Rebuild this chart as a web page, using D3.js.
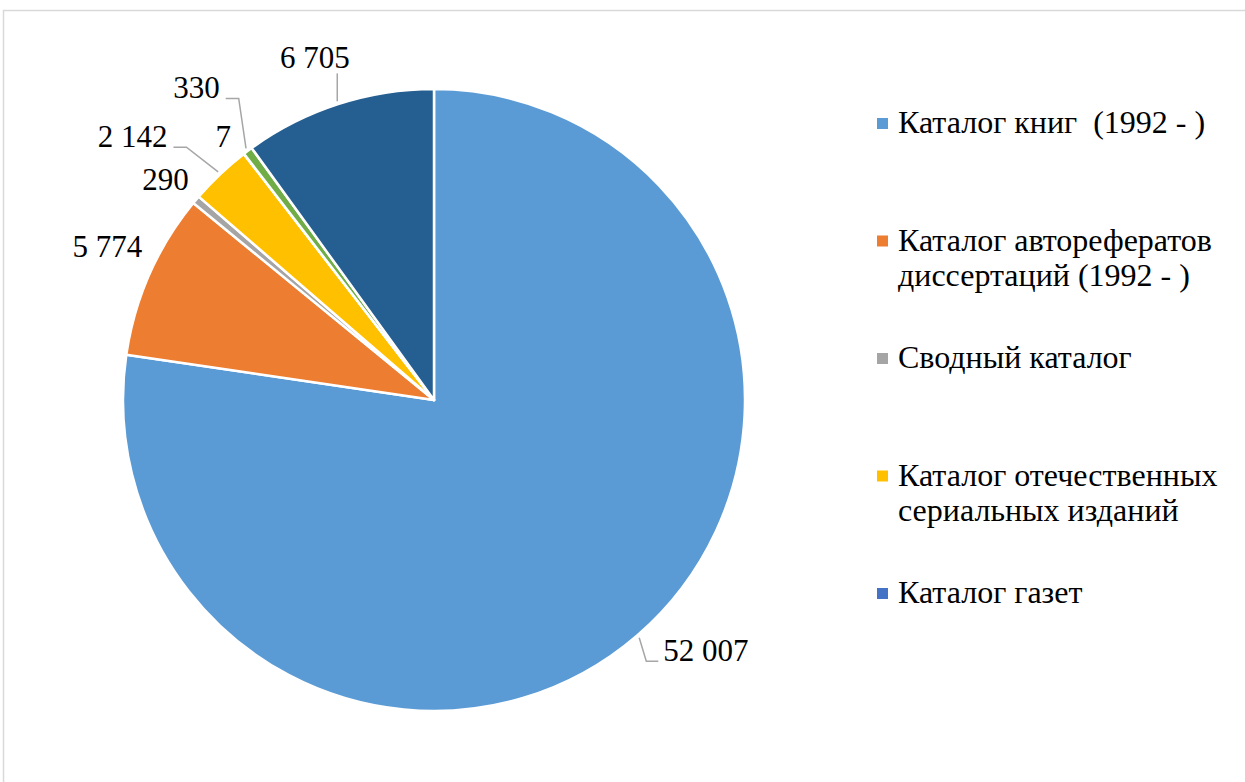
<!DOCTYPE html>
<html>
<head>
<meta charset="utf-8">
<style>
  body { margin: 0; background: #fff; font-family: "Times New Roman", "Liberation Serif", serif; }
  text { font-family: "Times New Roman", "Liberation Serif", serif; }
</style>
</head>
<body>
<div class="pie-chart-container"></div>
<script src="https://cdn.jsdelivr.net/npm/d3@7"></script>
<script>
// Data
const categories = [
    ['Каталог книг  (1992 - )'],
    ['Каталог авторефератов', 'диссертаций (1992 - )'],
    ['Сводный каталог'],
    ['Каталог отечественных', 'сериальных изданий'],
    ['Каталог газет'],
    null,   // legend entry cut off in the picture
    null
];
const values = [52007, 5774, 290, 2142, 7, 330, 6705];
const valueLabels = ['52 007', '5 774', '290', '2 142', '7', '330', '6 705'];
const colors = ['#5B9BD5', '#ED7D31', '#A5A5A5', '#FFC000', '#4472C4', '#70AD47', '#255E91'];

// label placement (angle in degrees from top, distance from centre, leader type)
const labelLayout = [
    {angle: 132.7, dist: 370, leader: 'h'},
    {angle: 295.2, dist: 361, leader: null},
    {angle: 309.3, dist: 347, leader: null},
    {angle: 311.1, dist: 400, leader: 'h'},
    {angle: 321.3, dist: 337, leader: null},
    {angle: 322.7, dist: 392, leader: 'h'},
    {angle: 340.8, dist: 362, leader: 'v'}
];

const FONT = 'Times New Roman, Liberation Serif, serif';

function setupCanvas(){
    const svg_width = 1245;
    const svg_height = 782;
    const cx = 434, cy = 400, radius = 311;
    const labelSize = 31, legendSize = 32;

    const svg = d3.select('.pie-chart-container').append('svg')
        .attr('width', svg_width).attr('height', svg_height)
        .attr('font-family', FONT);

    // chart border
    svg.append('rect')
        .attr('x', 3.5).attr('y', 10.5)
        .attr('width', svg_width + 20).attr('height', svg_height + 20)
        .style('fill', 'none').style('stroke', '#d9d9d9').style('stroke-width', 1.5);

    const pieData = d3.pie().sort(null).value(d => d)(values);
    const arcGen = d3.arc().innerRadius(0).outerRadius(radius);

    const g = svg.append('g').attr('transform', `translate(${cx},${cy})`);

    // slices
    g.selectAll('.slice').data(pieData).enter()
        .append('path')
        .attr('class', 'slice')
        .attr('d', arcGen)
        .style('fill', (d, i) => colors[i])
        .style('stroke', '#fff').style('stroke-width', 2.5)
        .style('stroke-linejoin', 'round');

    // value labels with leader lines
    const polar = (deg, r) => {
        const a = deg * Math.PI / 180;
        return [Math.sin(a) * r, -Math.cos(a) * r];
    };
    const leaders = g.append('g').attr('class', 'leaders');
    const labels = g.append('g').attr('class', 'value-labels');

    pieData.forEach((d, i) => {
        const lay = labelLayout[i];
        const [lx, ly] = polar(lay.angle, lay.dist);
        const baseline = ly + labelSize * 0.33;
        const t = labels.append('text')
            .attr('x', lx).attr('y', baseline)
            .attr('text-anchor', 'middle')
            .attr('font-family', FONT)
            .attr('font-size', labelSize)
            .attr('fill', '#000')
            .text(valueLabels[i]);
        if (!lay.leader) return;

        const mid = (d.startAngle + d.endAngle) / 2 * 180 / Math.PI;
        const [ex, ey] = polar(mid, radius + 3);
        const w = t.node().getComputedTextLength();
        let pts;
        if (lay.leader === 'v') {
            pts = [[ex, ey], [ex, baseline + 5]];
        } else if (lx < ex) {
            const right = lx + w / 2;
            pts = [[ex, ey], [right + 19, baseline], [right + 6, baseline]];
        } else {
            const left = lx - w / 2;
            pts = [[ex, ey], [left - 17, baseline], [left - 5, baseline]];
        }
        leaders.append('path')
            .attr('d', d3.line()(pts))
            .style('fill', 'none').style('stroke', '#A6A6A6').style('stroke-width', 1.5);
    });

    // legend (only the first five entries are visible)
    const legendX = 877, rowStart = 133, rowStep = 117.5, lineStep = 35;
    const legend = svg.append('g').attr('class', 'legend');
    categories.forEach((c, i) => {
        if (!c) return;
        const base = rowStart + i * rowStep;
        legend.append('rect')
            .attr('x', legendX).attr('y', base - 15)
            .attr('width', 11).attr('height', 11)
            .style('fill', colors[i]);
        c.forEach((line, j) => {
            legend.append('text')
                .attr('x', legendX + 21).attr('y', base + j * lineStep)
                .attr('font-family', FONT)
                .attr('font-size', legendSize)
                .attr('fill', '#000')
                .attr('xml:space', 'preserve')
                .text(line);
        });
    });
}

setupCanvas();
</script>
</body>
</html>
